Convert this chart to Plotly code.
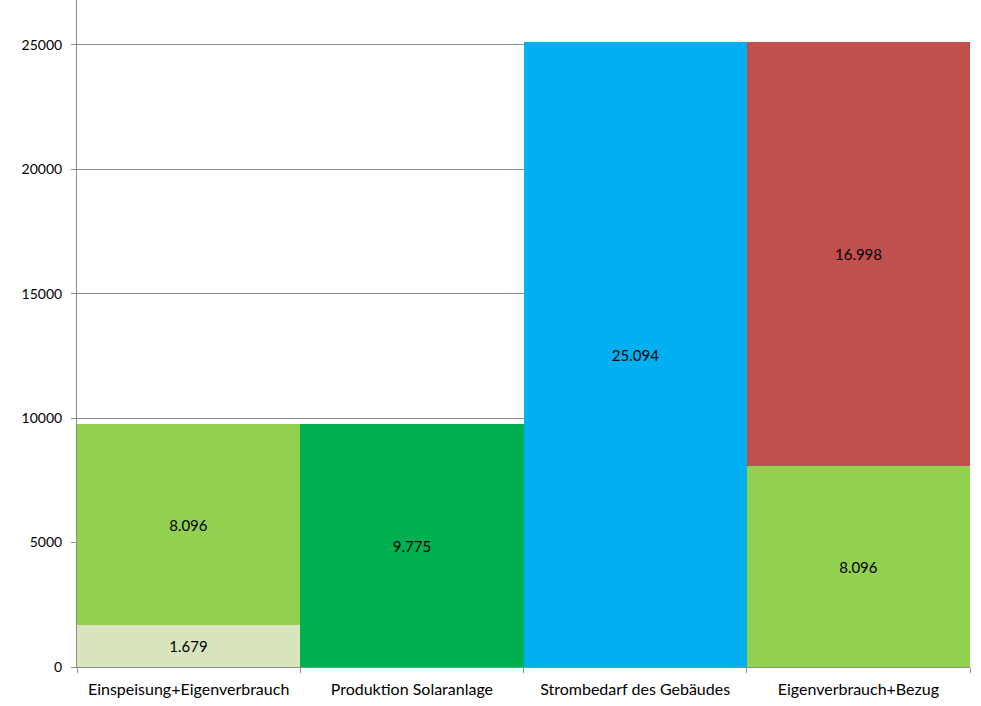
import plotly.graph_objects as go

categories = ["Einspeisung+Eigenverbrauch", "Produktion Solaranlage",
              "Strombedarf des Gebäudes", "Eigenverbrauch+Bezug"]
bottom_values = [1679, 9775, 25094, 8096]
top_values = [8096, None, None, 16998]
bottom_labels = ["1.679", "9.775", "25.094", "8.096"]
top_labels = ["8.096", "", "", "16.998"]
bottom_colors = ["#D7E4BD", "#00B050", "#00B0F0", "#92D050"]
top_colors = ["#92D050", "#FFFFFF", "#FFFFFF", "#C0504D"]
y_ticks = [0, 5000, 10000, 15000, 20000, 25000]

font_family = "Lato, 'Open Sans', sans-serif"

fig = go.Figure()
fig.add_trace(go.Bar(
    x=categories, y=bottom_values, text=bottom_labels,
    marker=dict(color=bottom_colors, line=dict(width=0)),
    textposition="inside", insidetextanchor="middle", texttemplate="%{text}",
    textfont=dict(color="black", size=15, family=font_family),
    hoverinfo="skip", showlegend=False,
))
fig.add_trace(go.Bar(
    x=categories, y=top_values, text=top_labels,
    marker=dict(color=top_colors, line=dict(width=0)),
    textposition="inside", insidetextanchor="middle", texttemplate="%{text}",
    textfont=dict(color="black", size=15, family=font_family),
    hoverinfo="skip", showlegend=False,
))

fig.update_layout(
    barmode="stack", bargap=0,
    width=981, height=706,
    margin=dict(l=77, r=11, t=0, b=39),
    plot_bgcolor="white", paper_bgcolor="white",
    font=dict(family=font_family, size=15, color="black"),
    uniformtext=dict(mode="show", minsize=10),
)
fig.update_yaxes(
    range=[0, 26800], tickvals=y_ticks, ticktext=[str(v) for v in y_ticks],
    showgrid=True, gridcolor="#8C8C8C", gridwidth=1,
    showline=True, linecolor="#8C8C8C", linewidth=1,
    ticks="outside", ticklen=5, tickcolor="#8C8C8C",
    zeroline=False, tickfont=dict(size=14), ticklabelstandoff=6,
)
fig.update_xaxes(
    showline=True, linecolor="#8C8C8C", linewidth=1,
    ticks="outside", tickson="boundaries", ticklen=5, tickcolor="#8C8C8C",
    tickfont=dict(size=16), showgrid=False, ticklabelstandoff=8,
)

fig.write_html(
    "out.html",
    config={"displayModeBar": False},
    post_script="document.body.style.margin='0';document.body.style.overflow='hidden';",
)
